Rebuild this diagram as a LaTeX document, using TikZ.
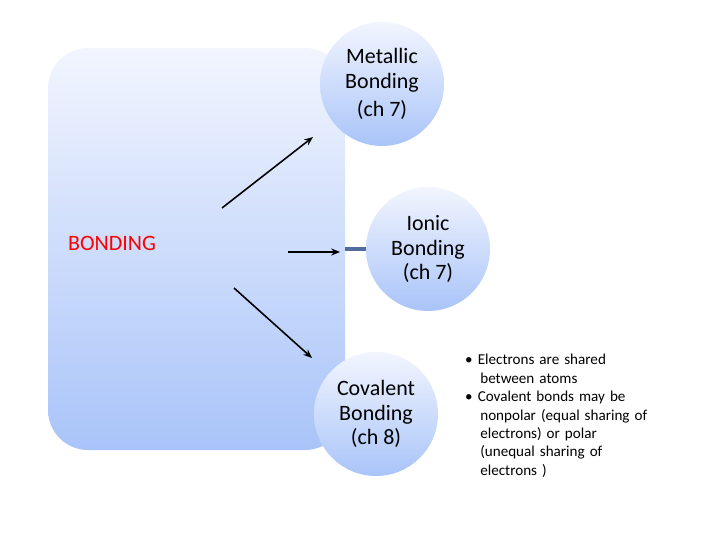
\documentclass[tikz,border=0pt]{standalone}
\usepackage{fontspec}
\setmainfont{Carlito}
\usetikzlibrary{arrows.meta}
\definecolor{paleblue}{HTML}{F2F5FE}
\definecolor{midblue}{HTML}{A9C4F9}
\definecolor{stubblue}{HTML}{4F6E9E}
\tikzset{
  bondcircle/.style={circle,minimum size=2.48cm,top color=paleblue,bottom color=midblue,
    align=center,font=\fontsize{12.5}{14}\selectfont,inner sep=0pt},
  bondarrow/.style={-{Stealth[length=5pt,width=4pt]},line width=0.9pt}
}
\begin{document}
\begin{tikzpicture}[x=0.02cm,y=-0.02cm]
    \useasboundingbox (0,0) rectangle (720,540);

    \shade[top color=paleblue,bottom color=midblue,rounded corners=0.8cm]
    (48,48) rectangle (345,450);

    \node[text=red,font=\fontsize{12.5}{14}\selectfont] (Bonding) at (112,243) {BONDING};

    \node[bondcircle] (Metallic) at (382,84) {Metallic\\Bonding\\[2pt](ch 7)};
    \node[bondcircle] (Ionic) at (428,249) {Ionic\\Bonding\\(ch 7)};
    \node[bondcircle] (Covalent) at (376,414) {Covalent\\Bonding\\(ch 8)};

    \coordinate (MetTail) at (222,208);
    \coordinate (MetHead) at (313,137);
    \coordinate (IonTail) at (288,252);
    \coordinate (IonHead) at (340,252);
    \coordinate (CovTail) at (234,288);
    \coordinate (CovHead) at (312,358);

    \draw[bondarrow] (MetTail) -- (MetHead);
    \draw[bondarrow] (IonTail) -- (IonHead);
    \draw[bondarrow] (CovTail) -- (CovHead);
    \draw[stubblue,line width=1.8pt] (345,249) -- (Ionic.west);

    \node[anchor=north west,align=left,text width=4cm,font=\fontsize{8.6}{10.5}\selectfont]
    (Notes) at (459,348) {%
      \textbullet\ Electrons are shared\\\hspace*{1em}between atoms\\
      \textbullet\ Covalent bonds may be\\\hspace*{1em}nonpolar (equal sharing of\\
      \hspace*{1em}electrons) or polar\\\hspace*{1em}(unequal sharing of\\
      \hspace*{1em}electrons )};
\end{tikzpicture}
\end{document}
